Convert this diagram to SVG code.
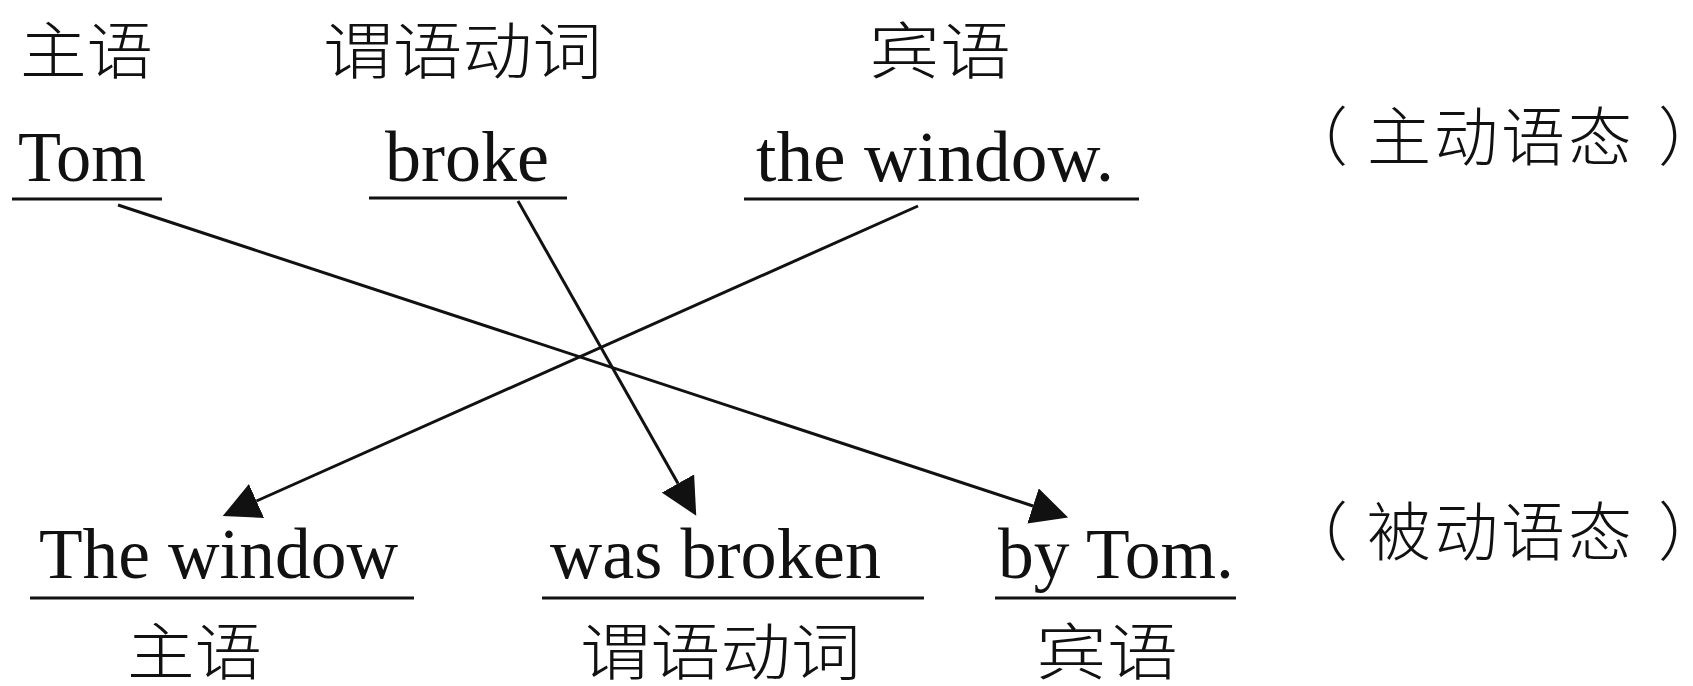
<svg xmlns="http://www.w3.org/2000/svg" width="1693" height="686" viewBox="0 0 1693 686">
<style>
.en{font-family:"Liberation Serif","Times New Roman",serif;font-size:71px;fill:#111}
.cn{font-family:"Noto Sans CJK SC","Noto Sans CJK TC",sans-serif;font-size:62px;fill:#111;font-weight:300}
.ul{stroke:#111;stroke-width:3;fill:none}
.ar{stroke:#111;stroke-width:3;fill:none;marker-end:url(#ah)}
</style>
<defs>
<marker id="ah" markerUnits="userSpaceOnUse" markerWidth="37" markerHeight="37" refX="0" refY="18.5" orient="auto" viewBox="0 0 37 37">
<path d="M0,0 L37,18.5 L0,37 z" fill="#111"/>
</marker>
</defs>
<g id="header-labels">
<text class="cn" x="20" y="74" textLength="133" lengthAdjust="spacingAndGlyphs">主语</text>
<text class="cn" x="323" y="74" textLength="279" lengthAdjust="spacingAndGlyphs">谓语动词</text>
<text class="cn" x="869" y="74" textLength="142" lengthAdjust="spacingAndGlyphs">宾语</text>
</g>
<g id="node-tom"><text class="en" x="18" y="181" textLength="128" lengthAdjust="spacingAndGlyphs">Tom</text><line class="ul" x1="12" y1="199" x2="162" y2="199"/></g>
<g id="node-broke"><text class="en" x="385" y="181" textLength="164" lengthAdjust="spacingAndGlyphs">broke</text><line class="ul" x1="369" y1="198" x2="567" y2="198"/></g>
<g id="node-the-window"><text class="en" x="756" y="181" textLength="358" lengthAdjust="spacingAndGlyphs">the window.</text><line class="ul" x1="744" y1="199" x2="1139" y2="199"/></g>
<g id="active-label"><text class="cn" x="1284 1367 1434 1501 1568 1658" y="160" style="font-size:64px">（主动语态）</text></g>
<g id="node-The-window"><text class="en" x="39" y="578" textLength="359" lengthAdjust="spacingAndGlyphs">The window</text><line class="ul" x1="30" y1="598" x2="414" y2="598"/>
<text class="cn" x="127" y="675" textLength="135" lengthAdjust="spacingAndGlyphs">主语</text></g>
<g id="node-was-broken"><text class="en" x="550" y="578" textLength="331" lengthAdjust="spacingAndGlyphs">was broken</text><line class="ul" x1="542" y1="598" x2="924" y2="598"/>
<text class="cn" x="580" y="675" textLength="281" lengthAdjust="spacingAndGlyphs">谓语动词</text></g>
<g id="node-by-tom"><text class="en" x="998" y="578" textLength="236" lengthAdjust="spacingAndGlyphs">by Tom.</text><line class="ul" x1="995" y1="598" x2="1236" y2="598"/>
<text class="cn" x="1036" y="675" textLength="142" lengthAdjust="spacingAndGlyphs">宾语</text></g>
<g id="passive-label"><text class="cn" x="1284 1367 1434 1501 1568 1658" y="555" style="font-size:64px">（被动语态）</text></g>
<g id="connectors">
<line class="ar" x1="118" y1="205" x2="1033" y2="506"/>
<line class="ar" x1="518" y1="201" x2="678" y2="483.5"/>
<line class="ar" x1="918" y1="206" x2="256.5" y2="501"/>
</g>
</svg>
